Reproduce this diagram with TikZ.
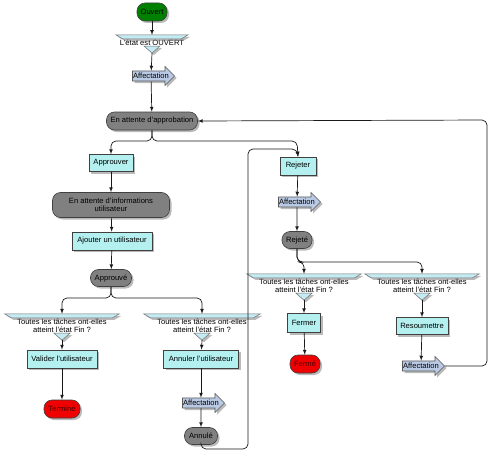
\documentclass[tikz,border=0pt]{standalone}
\usepackage{fontspec}
\setmainfont{Liberation Sans}
\usetikzlibrary{shapes,shapes.arrows,shadows,calc}

\definecolor{vertOuvert}{RGB}{0,128,0}
\definecolor{etatGris}{RGB}{128,128,128}
\definecolor{actionCyan}{RGB}{180,240,240}
\definecolor{affBleu}{RGB}{186,202,228}
\definecolor{condBleu}{RGB}{196,234,242}
\definecolor{rougeFin}{RGB}{240,0,0}

\tikzset{
	ombre/.style={drop shadow={shadow xshift=2pt,shadow yshift=-2pt,opacity=0.45,fill=black!60}},
	texte/.style={font=\fontsize{7.6}{8.4}\selectfont},
	etat/.style={texte,ombre,rectangle,rounded corners=8pt,draw=black!75,line width=0.6pt,fill=etatGris,minimum height=18pt,inner sep=1pt},
	action/.style={texte,ombre,rectangle,draw=black!75,line width=0.6pt,fill=actionCyan,minimum height=18pt,inner sep=1pt},
	affect/.style={texte,ombre,single arrow,single arrow head extend=3pt,draw=black!65,line width=0.6pt,fill=affBleu,minimum width=19pt,inner sep=0.3pt},
	condtexte/.style={texte,align=center,inner sep=1pt},
	condforme/.style={ombre,fill=condBleu,draw=black!55,line width=0.5pt},
	fleche/.style={-latex,draw=black!90,line width=0.7pt,rounded corners=5pt}
}

% bandeau de condition : nom, position, largeur, texte
\newcommand{\bandeau}[4]{%
	\node[condtexte] (#1) at (#2) {#4};
	\coordinate (#1-haut) at ($(#1.north)+(0,-4)$);
	\filldraw[condforme] ($(#1-haut)+(-#3/2,0)$) -- ($(#1-haut)+(#3/2,0)$) -- ($(#1-haut)+(#3/2-7,4)$) -- ($(#1-haut)+(-#3/2+7,4)$) -- cycle;
	\coordinate (#1-bas) at ($(#1.south)+(0,6)$);
	\filldraw[condforme] ($(#1.south)+(-8,-1)$) -- ($(#1.south)+(8,-1)$) -- (#1-bas) -- cycle;
}

\begin{document}
\begin{tikzpicture}[x=1pt,y=-1pt]
\useasboundingbox[fill=white] (0,0) rectangle (490,452);

%Etats et actions de la colonne gauche
\node[etat,fill=vertOuvert,minimum width=30pt] (ouvert) at (152,12) {Ouvert};
\bandeau{cOuvert}{152,43}{72}{L'état est OUVERT}
\node[affect] (aff1) at (151,76) {Affectation};
\node[etat,minimum width=91pt] (attApp) at (152,121) {En attente d'approbation};
\node[action,minimum width=44pt,minimum height=17pt] (approuver) at (111,163) {Approuver};
\node[etat,minimum width=117pt,minimum height=25pt,align=center] (attInfo) at (111,205) {En attente d'informations\\utilisateur};
\node[action,minimum width=80pt] (ajouter) at (112,241) {Ajouter un utilisateur};
\node[etat,minimum width=41pt,minimum height=17pt] (approuve) at (111,278) {Approuvé};

\bandeau{cValider}{62,326}{115}{Toutes les tâches ont-elles\\atteint l'état Fin ?}
\bandeau{cAnnuler}{202,326}{117}{Toutes les tâches ont-elles\\atteint l'état Fin ?}
\node[action,minimum width=70pt] (valider) at (62,359) {Valider l'utilisateur};
\node[etat,fill=rougeFin,text=red!30!black,minimum width=36pt] (termine) at (62,409) {Terminé};
\node[action,minimum width=75pt] (annuler) at (201,359) {Annuler l'utilisateur};
\node[affect] (aff2) at (201,403) {Affectation};
\node[etat,minimum width=33pt,minimum height=17pt] (annule) at (201,436) {Annulé};

%Colonne droite
\node[action,minimum width=36pt] (rejeter) at (298,166) {Rejeter};
\node[affect] (aff3) at (297,202) {Affectation};
\node[etat,minimum width=30pt,minimum height=17pt] (rejete) at (297,240) {Rejeté};
\bandeau{cFermer}{304,286}{115}{Toutes les tâches ont-elles\\atteint l'état Fin ?}
\bandeau{cResoum}{422,286}{115}{Toutes les tâches ont-elles\\atteint l'état Fin ?}
\node[action,minimum width=33pt,minimum height=19pt] (fermer) at (304,323) {Fermer};
\node[etat,fill=rougeFin,text=red!30!black,minimum width=30pt] (ferme) at (305,364) {Fermé};
\node[action,minimum width=52pt,minimum height=17pt] (resoum) at (422,326) {Resoumettre};
\node[affect] (aff4) at (421,366) {Affectation};

%Liaisons
\draw[fleche] (ouvert) -- (cOuvert-haut);
\draw[fleche] (cOuvert-bas) -- (aff1);
\draw[fleche] (aff1) -- (attApp);
\draw[fleche] (attApp.south) -- (152,141) -- (111,141) -- (approuver.north);
\draw[fleche] (attApp.south) -- (152,141) -- (297,141) -- (rejeter.north);
\draw[fleche] (approuver) -- (attInfo);
\draw[fleche] (attInfo) -- (ajouter);
\draw[fleche] (ajouter) -- (approuve);
\draw[fleche] (approuve.south) -- (111,298) -- (62,298) -- (cValider-haut);
\draw[fleche] (approuve.south) -- (111,298) -- (202,298) -- (cAnnuler-haut);
\draw[fleche] (cValider-bas) -- (valider);
\draw[fleche] (valider) -- (termine);
\draw[fleche] (cAnnuler-bas) -- (annuler);
\draw[fleche] (annuler) -- (aff2);
\draw[fleche] (aff2) -- (annule);
\draw[fleche] (annule.south) -- (201,449) -- (248,449) -- (248,149) -- (297,149) -- (rejeter.north);
\draw[fleche] (rejeter) -- (aff3);
\draw[fleche] (aff3) -- (rejete);
\draw[fleche] (rejete.south) -- (297,262) -- (304,262) -- (cFermer-haut);
\draw[fleche] (rejete.south) -- (297,262) -- (422,262) -- (cResoum-haut);
\draw[fleche] (cFermer-bas) -- (fermer);
\draw[fleche] (fermer) -- (ferme);
\draw[fleche] (cResoum-bas) -- (resoum);
\draw[fleche] (resoum) -- (aff4);
\draw[fleche] (aff4.tip) -- (487,366) -- (487,120) -- (attApp.east);

\end{tikzpicture}
\end{document}
